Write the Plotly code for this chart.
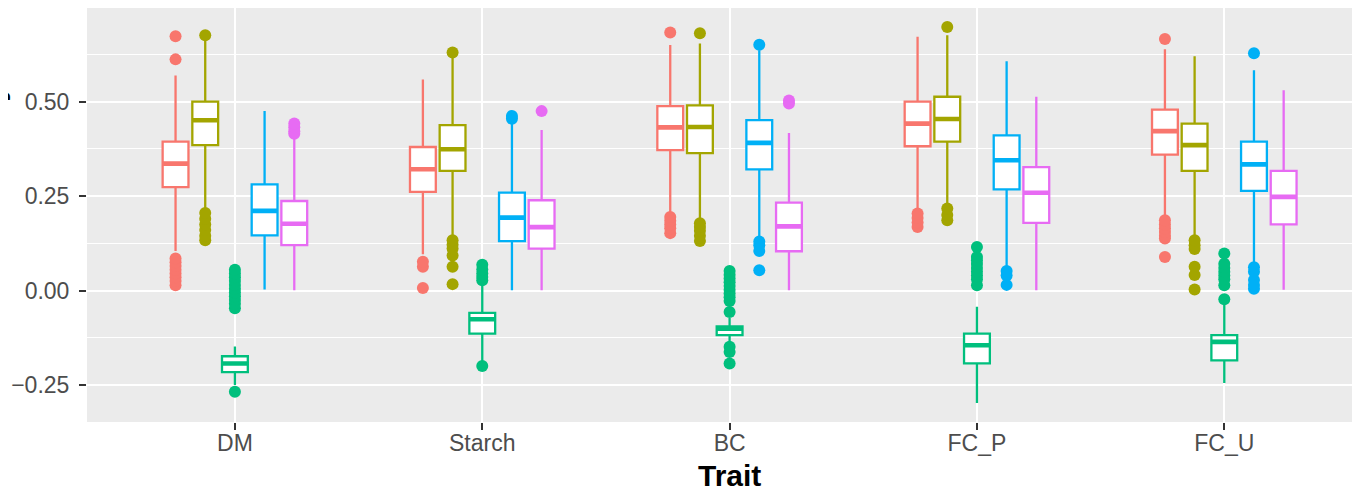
import plotly.graph_objects as go

traits = ["DM", "Starch", "BC", "FC_P", "FC_U"]
series_names = ["Group 1", "Group 2", "Group 3", "Group 4", "Group 5"]
colors = ["#F8766D", "#A3A500", "#00BF7D", "#00B0F6", "#E76BF3"]

# Series 1 (red)
s1_lower = [0.105, 0.096, 0.204, 0.213, 0.195]
s1_q1 = [0.274, 0.261, 0.372, 0.382, 0.360]
s1_median = [0.336, 0.321, 0.432, 0.442, 0.422]
s1_q3 = [0.394, 0.380, 0.488, 0.500, 0.479]
s1_upper = [0.569, 0.559, 0.650, 0.672, 0.639]
s1_outliers = [
    [0.673, 0.612, 0.085, 0.075, 0.065, 0.055, 0.045, 0.035, 0.025, 0.014],
    [0.076, 0.063, 0.007],
    [0.683, 0.195, 0.185, 0.175, 0.165, 0.152],
    [0.204, 0.192, 0.180, 0.168],
    [0.666, 0.186, 0.175, 0.165, 0.155, 0.145, 0.138, 0.089],
]

# Series 2 (olive)
s2_lower = [0.213, 0.146, 0.186, 0.230, 0.146]
s2_q1 = [0.385, 0.317, 0.364, 0.394, 0.317]
s2_median = [0.451, 0.374, 0.433, 0.454, 0.385]
s2_q3 = [0.500, 0.438, 0.490, 0.513, 0.442]
s2_upper = [0.665, 0.620, 0.654, 0.676, 0.620]
s2_outliers = [
    [0.676, 0.205, 0.190, 0.175, 0.160, 0.145, 0.133],
    [0.630, 0.133, 0.121, 0.111, 0.093, 0.063, 0.017],
    [0.681, 0.178, 0.168, 0.158, 0.145, 0.131],
    [0.698, 0.217, 0.200, 0.186],
    [0.133, 0.120, 0.110, 0.063, 0.041, 0.003],
]

# Series 3 (green)
s3_lower = [-0.250, -0.190, -0.136, -0.298, -0.245]
s3_q1 = [-0.216, -0.114, -0.118, -0.193, -0.185]
s3_median = [-0.193, -0.076, -0.101, -0.145, -0.136]
s3_q3 = [-0.174, -0.059, -0.095, -0.114, -0.118]
s3_upper = [-0.148, 0.015, -0.073, -0.043, -0.030]
s3_outliers = [
    [0.055, 0.045, 0.035, 0.025, 0.015, 0.005, -0.005, -0.015, -0.025, -0.035, -0.047, -0.268],
    [0.068, 0.056, 0.045, 0.036, 0.027, -0.200],
    [0.052, 0.042, 0.032, 0.022, 0.012, 0.002, -0.008, -0.018, -0.028, -0.057, -0.149, -0.163, -0.193],
    [0.115, 0.089, 0.080, 0.070, 0.060, 0.050, 0.040, 0.030, 0.014],
    [0.098, 0.071, 0.060, 0.050, 0.040, 0.030, 0.014, -0.023],
]

# Series 4 (blue); None = no outlier for that trait
s4_lower = [0.003, 0.001, 0.140, 0.062, 0.070]
s4_q1 = [0.146, 0.131, 0.321, 0.268, 0.264]
s4_median = [0.211, 0.193, 0.391, 0.345, 0.334]
s4_q3 = [0.281, 0.259, 0.451, 0.411, 0.394]
s4_upper = [0.475, 0.443, 0.636, 0.607, 0.583]
s4_outliers = [
    [None],
    [0.462, 0.455],
    [0.651, 0.130, 0.120, 0.105, 0.054],
    [0.052, 0.040, 0.015],
    [0.628, 0.062, 0.050, 0.028, 0.015, 0.005],
]

# Series 5 (magenta)
s5_lower = [0.001, 0.001, 0.001, 0.001, 0.002]
s5_q1 = [0.120, 0.111, 0.104, 0.179, 0.175]
s5_median = [0.177, 0.168, 0.170, 0.259, 0.248]
s5_q3 = [0.237, 0.239, 0.233, 0.327, 0.317]
s5_upper = [0.403, 0.425, 0.417, 0.513, 0.530]
s5_outliers = [
    [0.442, 0.432, 0.422, 0.415],
    [0.475],
    [0.503, 0.495],
    [None],
    [None],
]

y_tickvals = [-0.25, 0.0, 0.25, 0.5]
y_ticktext = ["\u22120.25", "0.00", "0.25", "0.50"]
y_minor = [-0.125, 0.125, 0.375, 0.625]

all_series = [
    (s1_lower, s1_q1, s1_median, s1_q3, s1_upper, s1_outliers),
    (s2_lower, s2_q1, s2_median, s2_q3, s2_upper, s2_outliers),
    (s3_lower, s3_q1, s3_median, s3_q3, s3_upper, s3_outliers),
    (s4_lower, s4_q1, s4_median, s4_q3, s4_upper, s4_outliers),
    (s5_lower, s5_q1, s5_median, s5_q3, s5_upper, s5_outliers),
]

# page body has an 8px margin, so figure coords = screen coords - 8
W, H = 1360, 490
ML, MR, MT, MB = 79, 0, 0, 76
plot_h = H - MT - MB
plot_w = W - ML - MR

fig = go.Figure()
for k, (name, col, (lo, q1, med, q3, up, outl)) in enumerate(zip(series_names, colors, all_series)):
    grp = "g%d" % k
    fig.add_trace(go.Box(
        name=name,
        x=traits,
        y=outl,
        q1=q1, median=med, q3=q3,
        lowerfence=lo, upperfence=up,
        boxpoints="all", jitter=0, pointpos=0,
        fillcolor="white",
        line=dict(color=col, width=2.3),
        marker=dict(color=col, size=12, line=dict(width=0)),
        whiskerwidth=0,
        offsetgroup=grp, alignmentgroup="all",
        showlegend=False,
        hoverinfo="skip",
    ))
    # thicker median bar (ggplot style), drawn from the same median values
    fig.add_trace(go.Box(
        name=name,
        x=traits,
        q1=med, median=med, q3=med,
        lowerfence=med, upperfence=med,
        boxpoints=False,
        fillcolor="rgba(0,0,0,0)",
        line=dict(color=col, width=4.6),
        whiskerwidth=0,
        offsetgroup=grp, alignmentgroup="all",
        showlegend=False,
        hoverinfo="skip",
    ))

font_family = "Liberation Sans, Arial, sans-serif"

fig.update_layout(
    width=W, height=H,
    margin=dict(l=ML, r=MR, t=MT, b=MB, pad=0),
    paper_bgcolor="white",
    plot_bgcolor="#EBEBEB",
    boxmode="group",
    boxgap=0.4,
    boxgroupgap=0.13,
    font=dict(family=font_family, color="#4D4D4D"),
    xaxis=dict(
        type="category",
        categoryorder="array", categoryarray=traits,
        range=[-0.598, 4.581],
        showgrid=True, gridcolor="white", gridwidth=2.2,
        ticks="outside", ticklen=7, tickwidth=2, tickcolor="#333333",
        ticklabelstandoff=-7,
        tickfont=dict(size=23, color="#4D4D4D", family=font_family),
        showline=False, zeroline=False,
    ),
    yaxis=dict(
        range=[-0.348, 0.748],
        tickvals=y_tickvals, ticktext=y_ticktext,
        showgrid=True, gridcolor="white", gridwidth=2.2,
        ticks="outside", ticklen=7, tickwidth=2, tickcolor="#333333",
        ticklabelstandoff=5,
        tickfont=dict(size=23, color="#4D4D4D", family=font_family),
        showline=False, zeroline=False,
        minor=dict(tickvals=y_minor, showgrid=True, gridcolor="white", gridwidth=1.1, ticks=""),
    ),
    annotations=[
        dict(text="<b>Trait</b>", xref="paper", yref="paper",
             x=(729 - 8 - ML) / plot_w, y=(plot_h + MT - (475 - 8)) / plot_h,
             xanchor="center", yanchor="middle", showarrow=False,
             font=dict(size=30, color="black", family=font_family)),
        dict(text="<b>Prediction accuracy</b>", xref="paper", yref="paper",
             x=(-14 - ML) / plot_w, y=(plot_h + MT - 220) / plot_h, textangle=-90,
             xanchor="center", yanchor="middle", showarrow=False,
             font=dict(size=30, color="black", family=font_family)),
    ],
)

fig.write_html("out.html")
